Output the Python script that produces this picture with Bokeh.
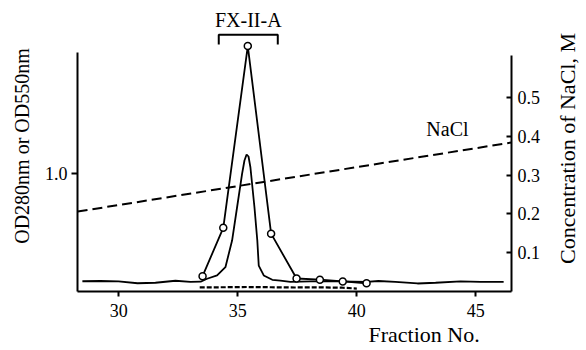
import math

from bokeh.plotting import figure
from bokeh.layouts import row
from bokeh.models import Range1d, LinearAxis, FixedTicker, Label, NumeralTickFormatter, Title
from bokeh.embed import file_html
from bokeh.resources import INLINE

# --- elution profile data -------------------------------------------------
# absorbance of collected fractions (open circles)
frac_pts = [33.52, 34.39, 35.42, 36.40, 37.47, 38.45, 39.41, 40.41]
od_pts = [0.13, 0.54, 2.08, 0.49, 0.11, 0.10, 0.085, 0.07]

# continuous absorbance trace from the flow monitor
frac_trace = [28.47, 29.23, 29.99, 30.79, 31.54, 32.38, 33.01, 33.44, 33.71,
              34.13, 34.48, 34.76, 34.97, 35.18, 35.28, 35.37, 35.45, 35.53,
              35.70, 35.82, 35.88, 36.09, 36.45, 36.79, 37.21, 38.05, 39.31,
              40.41, 40.91, 41.62, 42.55, 43.31, 44.36, 45.20, 46.17]
od_trace = [0.087, 0.089, 0.085, 0.070, 0.074, 0.091, 0.081, 0.083, 0.108,
            0.136, 0.206, 0.432, 0.714, 0.997, 1.110, 1.161, 1.144, 1.053,
            0.714, 0.432, 0.220, 0.136, 0.099, 0.093, 0.082, 0.085, 0.085,
            0.081, 0.089, 0.081, 0.068, 0.074, 0.085, 0.082, 0.082]

# second absorbance near the baseline (dotted)
frac_low = [33.4, 34.4, 35.4, 36.4, 37.4, 38.4, 39.4, 40.0]
od_low = [0.035, 0.036, 0.038, 0.036, 0.034, 0.035, 0.032, 0.025]

# linear NaCl gradient
frac_nacl = [28.27, 46.5]
nacl_conc = [0.206, 0.384]

# pooled fractions
pool_start, pool_end = 34.2, 36.68
bracket_top, bracket_foot = 2.175, 2.093

x_ticks = [30, 35, 40, 45]
left_ticks = [1.0]
right_ticks = [0.1, 0.2, 0.3, 0.4, 0.5]

SERIF = "Liberation Serif"

p = figure(width=552, height=350,
           x_range=Range1d(28.265, 46.5), y_range=Range1d(0, 2.466),
           output_backend="svg", toolbar_location=None,
           min_border_left=77, min_border_right=41,
           min_border_top=0, min_border_bottom=59)
p.outline_line_color = None
p.grid.visible = False
p.background_fill_color = "white"
p.border_fill_color = "white"

# right-hand scale for NaCl molarity
p.extra_y_ranges = {"nacl": Range1d(0, 0.75)}
raxis = LinearAxis(y_range_name="nacl", bounds=(0, 0.608))
p.add_layout(raxis, "right")

xa = p.xaxis[0]
xa.ticker = FixedTicker(ticks=x_ticks)
xa.major_tick_in = 0
xa.major_tick_out = 5
xa.major_label_standoff = 7

ya = p.yaxis[0]
ya.bounds = (0, 2.025)
ya.ticker = FixedTicker(ticks=left_ticks)
ya.formatter = NumeralTickFormatter(format="0.0")
ya.major_tick_in = 0
ya.major_tick_out = 6
ya.major_label_standoff = 4
ya.axis_label = "OD280nm or OD550nm"
ya.axis_label_standoff = 9

raxis.ticker = FixedTicker(ticks=right_ticks)
raxis.formatter = NumeralTickFormatter(format="0.0")
raxis.major_tick_in = 5
raxis.major_tick_out = 0
raxis.major_label_standoff = 6

for ax in (xa, ya, raxis):
    ax.axis_line_width = 2
    ax.axis_line_color = "black"
    ax.major_tick_line_width = 2
    ax.major_tick_line_color = "black"
    ax.minor_tick_line_color = None
    ax.major_label_text_font = SERIF
    ax.major_label_text_font_size = "18px"
    ax.major_label_text_color = "black"
    ax.axis_label_text_font = SERIF
    ax.axis_label_text_font_size = "20px"
    ax.axis_label_text_font_style = "normal"
    ax.axis_label_text_color = "black"

# x-axis title sits right of centre
p.add_layout(Title(text="Fraction No.", align="left", offset=291, standoff=0,
                   text_font=SERIF, text_font_size="22px",
                   text_font_style="normal", text_color="black"), "below")

# curves
p.line(frac_trace, od_trace, line_color="black", line_width=1.8)
p.line(frac_low, od_low, line_color="black", line_width=2.2, line_dash="5 2")
p.line(frac_pts, od_pts, line_color="black", line_width=1.8)
p.scatter(frac_pts, od_pts, marker="circle", size=7, fill_color="white",
          line_color="black", line_width=1.5)
p.line(frac_nacl, nacl_conc, y_range_name="nacl", line_color="black",
       line_width=2, line_dash="10 5")

# bracket over the pooled fractions
p.line([pool_start, pool_start, pool_end, pool_end],
       [bracket_foot, bracket_top, bracket_top, bracket_foot],
       line_color="black", line_width=2)

p.add_layout(Label(x=(pool_start + pool_end) / 2, y=2.297, text="FX-II-A",
                   text_align="center", text_baseline="middle",
                   text_font=SERIF, text_font_size="20px", text_color="black"))
p.add_layout(Label(x=43.81, y=0.42, y_range_name="nacl", text="NaCl",
                   text_align="center", text_baseline="middle",
                   text_font=SERIF, text_font_size="20px", text_color="black"))

# narrow strip carrying the NaCl axis title, read bottom to top
strip = figure(width=34, height=350, x_range=Range1d(0, 1), y_range=Range1d(0, 350),
               x_axis_location=None, y_axis_location=None,
               output_backend="svg", toolbar_location=None, min_border=0)
strip.outline_line_color = None
strip.grid.visible = False
strip.add_layout(Label(x=0.44, y=172, text="Concentration of NaCl, M",
                       angle=math.pi / 2, text_align="center", text_baseline="middle",
                       text_font=SERIF, text_font_size="22px", text_color="black"))

layout = row(p, strip, spacing=0)
open("out.html", "w").write(file_html(layout, INLINE))
